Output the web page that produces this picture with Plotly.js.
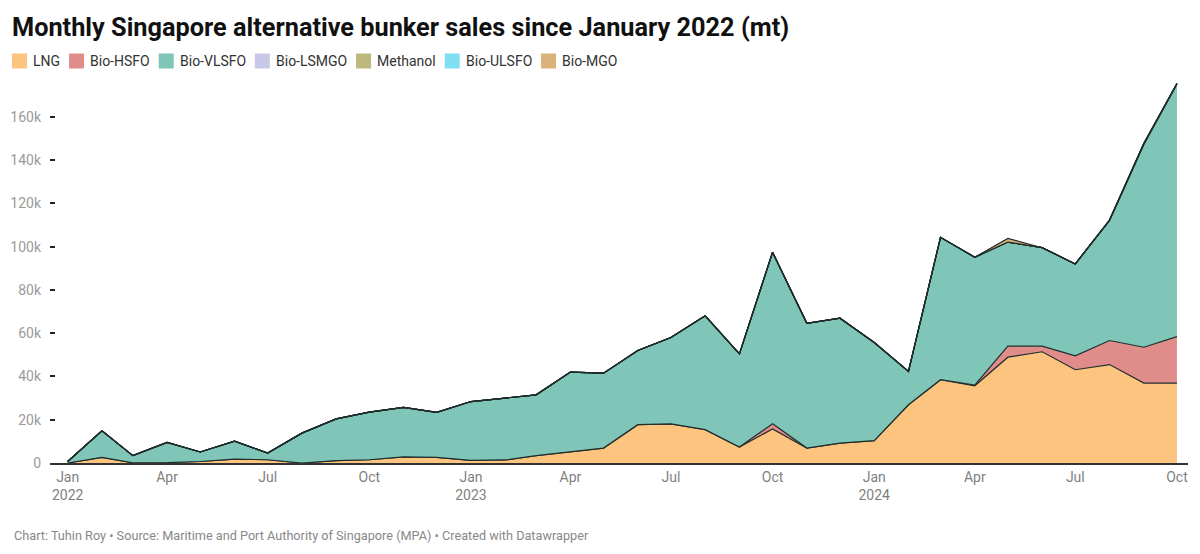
<!DOCTYPE html>
<html>
<head>
<meta charset="utf-8">
<script src="https://cdn.plot.ly/plotly-3.0.1.min.js"></script>
<style>
  html, body { margin: 0; padding: 0; background: #fff; }
  #chart { width: 1200px; height: 554px; }
</style>
</head>
<body>
<div id="chart"></div>
<script>
// months Jan 2022 .. Oct 2024
const months = [
    '2022-01-01', '2022-02-01', '2022-03-01', '2022-04-01', '2022-05-01', '2022-06-01',
    '2022-07-01', '2022-08-01', '2022-09-01', '2022-10-01', '2022-11-01', '2022-12-01',
    '2023-01-01', '2023-02-01', '2023-03-01', '2023-04-01', '2023-05-01', '2023-06-01',
    '2023-07-01', '2023-08-01', '2023-09-01', '2023-10-01', '2023-11-01', '2023-12-01',
    '2024-01-01', '2024-02-01', '2024-03-01', '2024-04-01', '2024-05-01', '2024-06-01',
    '2024-07-01', '2024-08-01', '2024-09-01', '2024-10-01'
];

// values in mt
const lng = [
    0, 2600, 100, 200, 700, 1800, 1500, 0, 1100, 1500, 2800, 2600,
    1200, 1400, 3400, 5100, 6900, 17700, 18100, 15400, 7400, 15700, 6900, 9200,
    10300, 26900, 38500, 35700, 48900, 51400, 43100, 45500, 36900, 36900
];
const bio_hsfo = [
    0, 0, 0, 0, 0, 0, 0, 0, 0, 0, 0, 0,
    0, 0, 0, 0, 0, 0, 0, 0, 0, 2400, 0, 0,
    0, 0, 0, 300, 5100, 2600, 6400, 11100, 16600, 21500
];
const bio_vlsfo = [
    700, 12300, 3300, 9300, 4400, 8300, 3100, 13800, 19300, 22000, 22900, 20800,
    27200, 28600, 28100, 36900, 34600, 34300, 39900, 52600, 43000, 79300, 57700, 57700,
    45400, 15400, 65800, 59100, 48100, 45500, 42500, 55400, 93600, 116600
];
const bio_lsmgo = [
    0, 0, 0, 0, 0, 0, 0, 0, 0, 0, 0, 0,
    0, 0, 0, 0, 0, 0, 0, 0, 0, 0, 0, 0,
    0, 0, 0, 0, 0, 0, 0, 300, 600, 400
];
const methanol = [
    0, 0, 0, 0, 0, 0, 0, 0, 0, 0, 0, 0,
    0, 0, 0, 0, 0, 0, 0, 0, 0, 0, 0, 0,
    0, 0, 0, 0, 0, 0, 0, 0, 0, 0
];
const bio_ulsfo = [
    0, 0, 0, 0, 0, 0, 0, 0, 0, 0, 0, 0,
    0, 0, 0, 0, 0, 0, 0, 0, 0, 0, 0, 0,
    0, 0, 0, 0, 0, 0, 0, 0, 0, 0
];
const bio_mgo = [
    0, 0, 0, 0, 0, 0, 0, 0, 0, 0, 0, 0,
    0, 0, 0, 0, 0, 0, 0, 0, 0, 0, 0, 0,
    0, 0, 0, 0, 1700, 0, 0, 0, 0, 0
];

const series_names = ['LNG', 'Bio-HSFO', 'Bio-VLSFO', 'Bio-LSMGO', 'Methanol', 'Bio-ULSFO', 'Bio-MGO'];
const series_values = [lng, bio_hsfo, bio_vlsfo, bio_lsmgo, methanol, bio_ulsfo, bio_mgo];
const series_colors = ['#fcc47e', '#e08c8a', '#7fc6b9', '#c8c8e8', '#bfb87e', '#80dff3', '#dcb27c'];

const tick_dates = ['2022-01-01', '2022-04-01', '2022-07-01', '2022-10-01',
    '2023-01-01', '2023-04-01', '2023-07-01', '2023-10-01',
    '2024-01-01', '2024-04-01', '2024-07-01', '2024-10-01'];
const tick_labels = ['Jan<br>2022', 'Apr', 'Jul', 'Oct',
    'Jan<br>2023', 'Apr', 'Jul', 'Oct',
    'Jan<br>2024', 'Apr', 'Jul', 'Oct'];

const W = 1200, H = 554;
const margin = {l: 50, r: 12, t: 80, b: 91};
const plot_w = W - margin.l - margin.r;
const plot_h = H - margin.t - margin.b;
const px_x = (px) => (px - margin.l) / plot_w;
const px_y = (py) => (H - margin.b - py) / plot_h;

const traces = series_names.map((name, i) => ({
    type: 'scatter',
    mode: 'lines',
    name: name,
    x: months,
    y: series_values[i],
    stackgroup: 'one',
    line: {color: '#1f2d2b', width: 1.2},
    fillcolor: series_colors[i],
    showlegend: false,
    hoverinfo: 'x+y+name'
}));

// legend drawn as shapes and labels, measured with canvas
const ctx = document.createElement('canvas').getContext('2d');
ctx.font = '14px Roboto';
const shapes = [];
const annotations = [];
let cursor = 12;
series_names.forEach((name, i) => {
    shapes.push({
        type: 'rect', xref: 'paper', yref: 'paper',
        x0: px_x(cursor), x1: px_x(cursor + 15),
        y0: px_y(68.5), y1: px_y(53.5),
        fillcolor: series_colors[i], line: {width: 0}
    });
    annotations.push({
        xref: 'paper', yref: 'paper',
        x: px_x(cursor + 19), y: px_y(61),
        xanchor: 'left', yanchor: 'middle',
        text: name, showarrow: false,
        font: {family: 'Roboto', size: 14, color: '#333333'}
    });
    cursor += 19 + ctx.measureText(name).width + 11;
});

annotations.push({
    xref: 'paper', yref: 'paper',
    x: px_x(12), y: px_y(535),
    xanchor: 'left', yanchor: 'middle',
    text: 'Chart: Tuhin Roy • Source: Maritime and Port Authority of Singapore (MPA) • Created with Datawrapper',
    showarrow: false,
    font: {family: 'Roboto', size: 12.7, color: '#888888'}
});

const layout = {
    width: W,
    height: H,
    margin: margin,
    paper_bgcolor: '#ffffff',
    plot_bgcolor: '#ffffff',
    font: {family: 'Roboto', color: '#333333'},
    title: {
        text: '<b>Monthly Singapore alternative bunker sales since January 2022 (mt)</b>',
        x: 12 / W, xref: 'container', xanchor: 'left',
        y: 1 - 27 / H, yref: 'container', yanchor: 'middle',
        font: {family: 'Roboto', size: 25.3, color: '#111111'}
    },
    showlegend: false,
    xaxis: {
        type: 'date',
        range: ['2021-12-16', '2024-10-11'],
        tickvals: tick_dates,
        ticktext: tick_labels,
        tickfont: {family: 'Roboto', size: 14, color: '#7f7f7f'},
        ticks: '',
        showgrid: false,
        zeroline: false,
        showline: true,
        linecolor: '#333333',
        linewidth: 2,
        fixedrange: true
    },
    yaxis: {
        range: [0, 177000],
        tickvals: [0, 20000, 40000, 60000, 80000, 100000, 120000, 140000, 160000],
        tickformat: '~s',
        tickfont: {family: 'Roboto', size: 14, color: '#9a9a9a'},
        ticks: 'inside',
        ticklen: 5,
        tickwidth: 2,
        tickcolor: '#222222',
        ticklabelstandoff: 8,
        showgrid: false,
        zeroline: false,
        showline: false,
        fixedrange: true
    },
    shapes: shapes,
    annotations: annotations
};

Plotly.newPlot('chart', traces, layout, {displayModeBar: false, staticPlot: true});
</script>
</body>
</html>
